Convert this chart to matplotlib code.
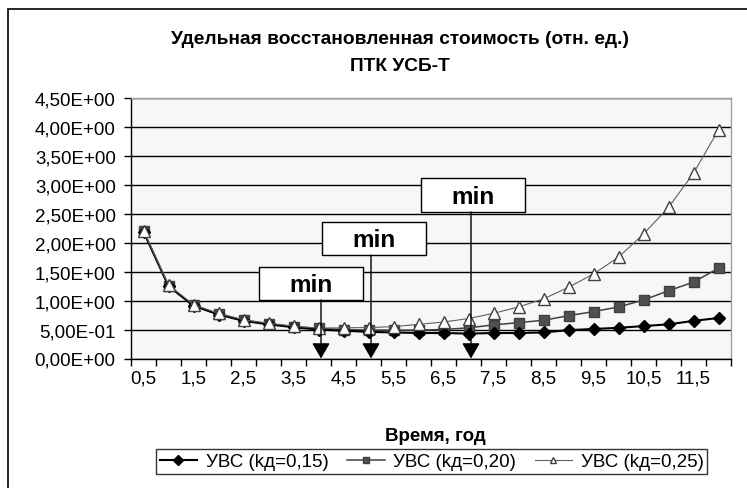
import matplotlib
matplotlib.use("Agg")
import matplotlib.pyplot as plt
from matplotlib.patches import Rectangle

plt.rcParams['font.family'] = ['Liberation Sans', 'DejaVu Sans']

# ---- data ----
years = [0.5, 1.0, 1.5, 2.0, 2.5, 3.0, 3.5, 4.0, 4.5, 5.0, 5.5, 6.0,
         6.5, 7.0, 7.5, 8.0, 8.5, 9.0, 9.5, 10.0, 10.5, 11.0, 11.5, 12.0]
uvs_015 = [2.19, 1.25, 0.91, 0.76, 0.65, 0.59, 0.54, 0.50, 0.48, 0.46, 0.45, 0.44,
           0.44, 0.43, 0.44, 0.44, 0.45, 0.49, 0.51, 0.53, 0.56, 0.59, 0.65, 0.70]
uvs_020 = [2.20, 1.26, 0.92, 0.77, 0.66, 0.60, 0.55, 0.52, 0.50, 0.49, 0.49, 0.49,
           0.50, 0.53, 0.58, 0.62, 0.66, 0.74, 0.81, 0.89, 1.01, 1.17, 1.32, 1.56]
uvs_025 = [2.21, 1.27, 0.93, 0.78, 0.67, 0.61, 0.56, 0.525, 0.53, 0.535, 0.55, 0.59,
           0.63, 0.69, 0.78, 0.89, 1.03, 1.23, 1.46, 1.75, 2.15, 2.61, 3.20, 3.95]
series_labels = ['УВС (kд=0,15)', 'УВС (kд=0,20)', 'УВС (kд=0,25)']
yticks = [0, 0.5, 1.0, 1.5, 2.0, 2.5, 3.0, 3.5, 4.0, 4.5]

W, H = 747, 489
fig = plt.figure(figsize=(W / 100, H / 100), dpi=100)
fig.patch.set_facecolor('white')

L, R, T, B = 131, 731, 99, 359.5
ax = fig.add_axes([L / W, 1 - B / H, (R - L) / W, (B - T) / H])
ax.set_facecolor('#f7f7f7')

idx = list(range(len(years)))
ax.plot(idx, uvs_015, color='black', lw=1.5, marker='D', ms=6,
        mfc='black', mec='black', label=series_labels[0], zorder=5)
ax.plot(idx, uvs_020, color='#404040', lw=1.1, marker='s', ms=7,
        mfc='#505050', mec='#404040', label=series_labels[1], zorder=4)
ax.plot(idx, uvs_025, color='#606060', lw=0.8, marker='^', ms=8,
        mfc='white', mec='#404040', mew=1.0, label=series_labels[2], zorder=6)

ax.set_xlim(-0.5, len(years) - 0.5)
ax.set_ylim(0, 4.5)

# x axis: tick marks at category boundaries, labels every other category
ax.set_xticks([i - 0.5 for i in range(len(years) + 1)])
ax.set_xticklabels([])
ax.set_xticks(idx[::2], minor=True)
ax.set_xticklabels([f"{y:.1f}".replace('.', ',') for y in years[::2]],
                   minor=True, fontsize=13.5)
ax.tick_params(axis='x', which='major', length=5, width=1, direction='out', color='black')
ax.tick_params(axis='x', which='minor', length=0, pad=8)

ax.set_yticks(yticks)
ax.set_yticklabels([f"{v:.2E}".replace('.', ',') for v in yticks], fontsize=13.5)
ax.tick_params(axis='y', length=5, width=1, direction='out', color='black', pad=6)

ax.grid(axis='y', color='black', lw=1)
ax.set_axisbelow(True)
for s in ['top', 'right']:
    ax.spines[s].set_color('#a0a0a0')
    ax.spines[s].set_linewidth(1)
for s in ['left', 'bottom']:
    ax.spines[s].set_color('black')
    ax.spines[s].set_linewidth(1)

# min annotations
px2x = lambda px: (px - L) / 25.0 - 0.5
px2y = lambda py: (B - py) / ((B - T) / 4.5)
boxes = [(259, 363, 268, 301), (322, 426, 223, 256), (421, 525, 179, 213)]
arrow_px = [321, 371, 471]
for (x0, x1, y0, y1), ax_px in zip(boxes, arrow_px):
    bx0, bx1 = px2x(x0), px2x(x1)
    by_top, by_bot = px2y(y0), px2y(y1)
    ax.add_patch(Rectangle((bx0, by_bot), bx1 - bx0, by_top - by_bot,
                           facecolor='white', edgecolor='black', lw=1, zorder=8))
    ax.text((bx0 + bx1) / 2, (by_top + by_bot) / 2 - 0.02, 'min', ha='center', va='center',
            fontsize=17.5, fontweight='bold', zorder=9)
    ax.annotate('', xy=(px2x(ax_px), 0.0), xytext=(px2x(ax_px), by_bot),
                arrowprops=dict(arrowstyle='-|>,head_length=0.95,head_width=0.55',
                                color='black', lw=1, shrinkA=0, shrinkB=0),
                zorder=9, annotation_clip=False)

# titles
fig.text(400 / W, 1 - 40 / H, 'Удельная восстановленная стоимость (отн. ед.)',
         ha='center', va='center', fontsize=13.8, fontweight='bold')
fig.text(400 / W, 1 - 67 / H, 'ПТК УСБ-Т', ha='center', va='center',
         fontsize=13.8, fontweight='bold')
fig.text(435 / W, 1 - 437 / H, 'Время, год', ha='center', va='center',
         fontsize=13.5, fontweight='bold')

handles, labels = ax.get_legend_handles_labels()
leg = fig.legend(handles, labels, ncol=3, loc='center',
                 bbox_to_anchor=(431.5 / W, 1 - 462.5 / H), fontsize=13.5,
                 frameon=True, fancybox=False, edgecolor='black',
                 handlelength=2.0, handletextpad=0.45, columnspacing=1.0,
                 borderpad=0.2, borderaxespad=0)
leg.get_frame().set_linewidth(1)
for h in leg.legend_handles:
    h.set_markersize(5)

# outer border (left and top visible)
fig.add_artist(Rectangle((7.5 / W, -0.2), 2, 1.2 - 9.5 / H, transform=fig.transFigure,
                         facecolor='none', edgecolor='black', lw=1.2))

fig.savefig('out.png', dpi=100)
